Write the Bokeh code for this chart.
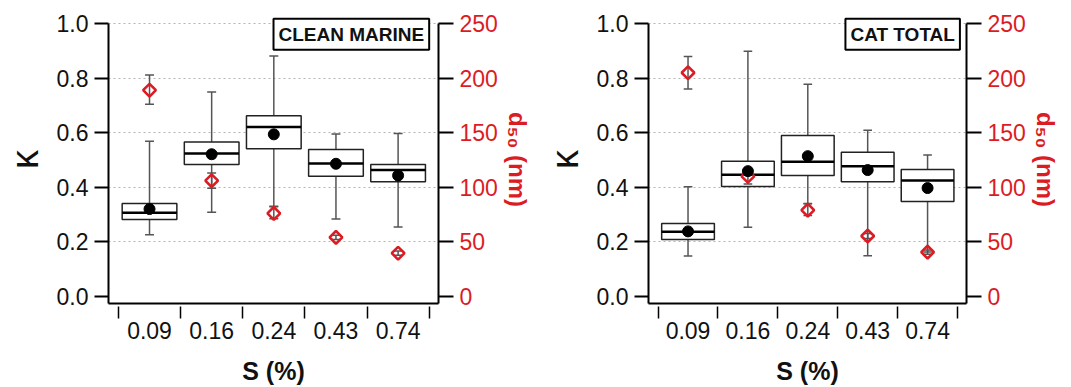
import math
from bokeh.plotting import figure
from bokeh.models import Range1d, LinearAxis, FixedTicker, ColumnDataSource, Label, NumeralTickFormatter
from bokeh.layouts import row
from bokeh.transform import dodge
from bokeh.embed import file_html
from bokeh.resources import INLINE

S_LABELS = ["0.09", "0.16", "0.24", "0.43", "0.74"]
KAPPA_TICKS = [0.0, 0.2, 0.4, 0.6, 0.8, 1.0]
D50_TICKS = [0, 50, 100, 150, 200, 250]

# CLEAN MARINE
cm_whisk_lo = [0.226, 0.308, 0.330, 0.283, 0.254]
cm_q1 = [0.282, 0.483, 0.541, 0.440, 0.420]
cm_med = [0.306, 0.524, 0.621, 0.487, 0.463]
cm_q3 = [0.340, 0.566, 0.662, 0.538, 0.483]
cm_whisk_hi = [0.569, 0.749, 0.881, 0.595, 0.597]
cm_mean = [0.320, 0.521, 0.594, 0.486, 0.443]
cm_d50 = [189, 106, 76, 54, 39.5]
cm_d50_lo = [176, 99, 71, 52, 37.5]
cm_d50_hi = [203, 113, 82, 56, 41.5]

# CAT TOTAL
ct_whisk_lo = [0.148, 0.253, 0.339, 0.149, 0.162]
ct_q1 = [0.208, 0.403, 0.443, 0.420, 0.348]
ct_med = [0.237, 0.446, 0.493, 0.477, 0.425]
ct_q3 = [0.267, 0.495, 0.590, 0.528, 0.465]
ct_whisk_hi = [0.402, 0.899, 0.778, 0.609, 0.518]
ct_mean = [0.238, 0.459, 0.514, 0.463, 0.397]
ct_d50 = [205, 110, 79, 55.3, 40.5]
ct_d50_lo = [190, 103, 74, 53, 38.5]
ct_d50_hi = [220, 116, 85, 57.5, 42.5]

RED = "#dc1c24"
FONT = "Liberation Sans"
Y0 = -0.0266
Y1 = 1.030


def panel(title, title_x, wlo, q1, med, q3, whi, mean, d50, d50lo, d50hi, width, bl, br):
    xs = [i + 0.5 for i in range(len(S_LABELS))]
    src = ColumnDataSource(dict(x=xs, wlo=wlo, q1=q1, med=med, q3=q3, whi=whi, mean=mean,
                                d50=d50, d50lo=d50lo, d50hi=d50hi))
    p = figure(width=width, height=387, x_range=Range1d(-0.16, 5.15), y_range=Range1d(Y0, Y1),
               output_backend="svg", toolbar_location=None,
               min_border_left=bl, min_border_right=br, min_border_top=15, min_border_bottom=82)
    p.outline_line_color = None
    p.background_fill_color = "white"
    p.border_fill_color = "white"
    p.extra_y_ranges = {"d50": Range1d(Y0 * 250, Y1 * 250)}

    # bottom (category) axis
    xa = p.xaxis[0]
    xa.ticker = FixedTicker(ticks=xs, minor_ticks=list(range(len(S_LABELS) + 1)))
    xa.major_label_overrides = {x: lab for x, lab in zip(xs, S_LABELS)}
    xa.major_tick_line_color = None
    xa.major_tick_out = 0
    xa.major_tick_in = 0
    xa.minor_tick_in = -3
    xa.minor_tick_out = 15
    xa.minor_tick_line_width = 1.5
    xa.minor_tick_line_color = "black"
    xa.axis_line_width = 2
    xa.axis_line_color = "black"
    xa.major_label_text_font = FONT
    xa.major_label_text_font_size = "23px"
    xa.major_label_text_color = "#111111"
    xa.major_label_standoff = 3
    xa.axis_label = "S (%)"
    xa.axis_label_text_font = FONT
    xa.axis_label_text_font_style = "bold"
    xa.axis_label_text_font_size = "25px"
    xa.axis_label_standoff = 15
    xa.axis_label_text_color = "#111111"

    # left kappa axis
    ya = p.yaxis[0]
    ya.ticker = FixedTicker(ticks=KAPPA_TICKS, minor_ticks=[])
    ya.formatter = NumeralTickFormatter(format="0.0")
    ya.bounds = (Y0, 1.0)
    ya.major_tick_out = 14
    ya.major_tick_in = 0
    ya.major_tick_line_width = 2
    ya.major_tick_line_color = "black"
    ya.axis_line_width = 2
    ya.axis_line_color = "black"
    ya.major_label_text_font = FONT
    ya.major_label_text_font_size = "23px"
    ya.major_label_text_color = "#111111"
    ya.major_label_standoff = 6
    ya.axis_label = "κ"
    ya.axis_label_text_font = FONT
    ya.axis_label_text_font_style = "normal"
    ya.axis_label_text_font_size = "38px"
    ya.axis_label_standoff = 8
    ya.axis_label_text_color = "#111111"

    # right d50 axis
    ra = LinearAxis(y_range_name="d50", ticker=FixedTicker(ticks=D50_TICKS, minor_ticks=[]))
    ra.bounds = (Y0 * 250, 250)
    ra.major_tick_out = 15
    ra.major_tick_in = 0
    ra.major_tick_line_width = 2
    ra.major_tick_line_color = "black"
    ra.axis_line_width = 2
    ra.axis_line_color = "black"
    ra.major_label_text_font = FONT
    ra.major_label_text_font_size = "23px"
    ra.major_label_text_color = RED
    ra.major_label_standoff = 6
    ra.axis_label = "d₅₀ (nm)"
    ra.axis_label_text_font = FONT
    ra.axis_label_text_font_style = "bold"
    ra.axis_label_text_font_size = "24px"
    ra.axis_label_text_color = RED
    ra.axis_label_standoff = 3
    p.add_layout(ra, "right")

    p.xgrid.visible = False
    p.ygrid.ticker = FixedTicker(ticks=KAPPA_TICKS[1:], minor_ticks=[])
    p.ygrid.grid_line_color = "#b4b4b4"
    p.ygrid.grid_line_dash = "2 3"
    p.ygrid.grid_line_width = 1

    cap = 0.072
    half = 0.44
    # kappa whiskers
    p.segment(x0="x", y0="wlo", x1="x", y1="whi", source=src, line_color="#555555", line_width=1.5)
    p.segment(x0=dodge("x", -cap, range=p.x_range), y0="whi", x1=dodge("x", cap, range=p.x_range), y1="whi",
              source=src, line_color="#555555", line_width=1.5)
    p.segment(x0=dodge("x", -cap, range=p.x_range), y0="wlo", x1=dodge("x", cap, range=p.x_range), y1="wlo",
              source=src, line_color="#555555", line_width=1.5)
    # boxes
    p.vbar(x="x", width=2 * half, bottom="q1", top="q3", source=src, fill_color="white",
           line_color="#222222", line_width=1.5)
    p.segment(x0=dodge("x", -half, range=p.x_range), y0="med", x1=dodge("x", half, range=p.x_range), y1="med",
              source=src, line_color="black", line_width=2.5)
    # d50 error bars and diamonds
    p.segment(x0="x", y0="d50lo", x1="x", y1="d50hi", source=src, y_range_name="d50",
              line_color="#555555", line_width=1.5)
    p.segment(x0=dodge("x", -cap, range=p.x_range), y0="d50hi", x1=dodge("x", cap, range=p.x_range), y1="d50hi",
              source=src, y_range_name="d50", line_color="#555555", line_width=1.5)
    p.segment(x0=dodge("x", -cap, range=p.x_range), y0="d50lo", x1=dodge("x", cap, range=p.x_range), y1="d50lo",
              source=src, y_range_name="d50", line_color="#555555", line_width=1.5)
    p.scatter(x="x", y="d50", source=src, y_range_name="d50", marker="square", angle=math.pi / 4,
              size=9, fill_color=None, line_color=RED, line_width=2.6)
    # mean
    p.scatter(x="x", y="mean", source=src, marker="circle", size=11, fill_color="black", line_color="black")

    lab = Label(x=title_x, y=1.018, text=title, text_align="right", text_baseline="top",
                text_font=FONT, text_font_style="bold", text_font_size="19px", text_color="#111111",
                border_line_color="black", border_line_width=2, background_fill_color="white",
                padding=5)
    p.add_layout(lab)
    return p


p1 = panel("CLEAN MARINE", 5.0, cm_whisk_lo, cm_q1, cm_med, cm_q3, cm_whisk_hi, cm_mean,
           cm_d50, cm_d50_lo, cm_d50_hi, 540, 106, 102)
p2 = panel("CAT TOTAL", 5.04, ct_whisk_lo, ct_q1, ct_med, ct_q3, ct_whisk_hi, ct_mean,
           ct_d50, ct_d50_lo, ct_d50_hi, 531, 107, 105)

layout = row(p1, p2)
open("out.html", "w").write(file_html(layout, INLINE))
